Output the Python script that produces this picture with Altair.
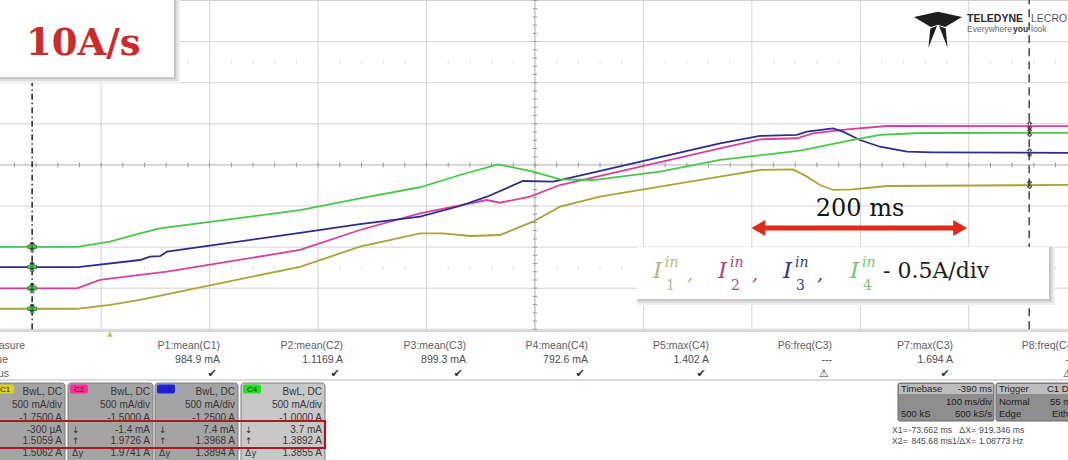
import altair as alt
import pandas as pd

W, H = 1068, 460

# ---------------- acquisition window ----------------
T_MIN, T_MAX = -103.3, 881.5      # ms across the screen (100 ms/div, delay -390 ms)
DIV_MIN, DIV_MAX = -7.18, 4.012   # divisions; the graticule itself spans -4..4
AMPS_PER_DIV = 0.5
GRID_T = [-10, 90, 190, 290, 390, 490, 590, 690, 790]
GRID_DIV = [-4, -3, -2, -1, 0, 1, 2, 3, 4]
CENTER_T = 390

CHANNELS = ["C1", "C2", "C3", "C4"]
OFFSETS = [-1.75, -1.50, -1.25, -1.00]          # A
TRACE_COLORS = ["#aaa23a", "#d7409d", "#2d2d8f", "#49c749"]

# ---------------- input currents (ms, A) ----------------
C1_T = [-103.3, -32.3, -1.9, 25.8, 69.1, 173.3, 228.6, 284.0, 305.2, 330.1, 357.7, 388.2,
        413.1, 425.0, 449.9, 560.6, 597.5, 627.9, 640.8, 652.8, 664.8, 683.2, 714.6, 881.5]
C1_I = [-0.0003, -0.0003, 0.046, 0.107, 0.228, 0.510, 0.755, 0.918, 0.918, 0.885, 0.897, 1.059,
        1.242, 1.283, 1.363, 1.607, 1.688, 1.696, 1.607, 1.505, 1.445, 1.453, 1.493, 1.506]

C2_T = [-103.3, -32.3, -11.1, 25.8, 50.7, 173.3, 228.6, 284.0, 345.7, 357.7, 385.4, 413.1,
        560.6, 597.5, 631.6, 646.3, 677.7, 714.6, 881.5]
C2_I = [-0.0014, -0.0014, 0.100, 0.161, 0.201, 0.465, 0.708, 0.911, 1.073, 1.040, 1.113, 1.255,
        1.702, 1.811, 1.824, 1.884, 1.933, 1.973, 1.9726]

C3_T = [-103.3, -31.4, 25.8, 35.0, 44.2, 50.7, 173.3, 228.6, 284.0, 320.8, 345.7, 378.9, 406.6,
        413.1, 560.6, 597.5, 631.6, 640.8, 664.8, 674.0, 689.7, 708.1, 733.0, 757.0, 881.5]
C3_I = [0.0074, 0.0074, 0.093, 0.133, 0.140, 0.194, 0.422, 0.530, 0.620, 0.750, 0.863, 1.054, 1.046,
        1.066, 1.513, 1.602, 1.614, 1.654, 1.694, 1.654, 1.553, 1.471, 1.411, 1.403, 1.3968]

C4_T = [-103.3, -32.3, -1.9, 25.8, 44.2, 173.3, 228.6, 284.0, 320.8, 355.9, 388.2, 413.1,
        443.5, 505.3, 560.6, 634.3, 683.2, 708.1, 745.0, 881.5]
C4_I = [0.0037, 0.0037, 0.066, 0.168, 0.229, 0.450, 0.594, 0.728, 0.877, 1.007, 0.917, 0.825,
        0.816, 0.917, 1.060, 1.173, 1.303, 1.364, 1.388, 1.3892]

# ---------------- cursors ----------------
CURSOR_X1 = -73.662
CURSOR_X2 = 845.684
CURSOR_Y1 = [-0.0003, -0.0014, 0.0074, 0.0037]   # A at X1
CURSOR_Y2 = [1.5059, 1.9726, 1.3968, 1.3892]     # A at X2

# ---------------- ramp annotation ----------------
ARROW_START = 589.0
ARROW_SPAN = 200.0       # ms
ARROW_LEVEL = -1.535     # div

# ---------------- measurement readout ----------------
P_LABELS = ["P1:mean(C1)", "P2:mean(C2)", "P3:mean(C3)", "P4:mean(C4)",
            "P5:max(C4)", "P6:freq(C3)", "P7:max(C3)", "P8:freq(C4)"]
P_VALUES = ["984.9 mA", "1.1169 A", "899.3 mA", "792.6 mA", "1.402 A", "---", "1.694 A", "---"]
P_STATUS = ["\u2714", "\u2714", "\u2714", "\u2714", "\u2714", "\u26a0", "\u2714", "\u26a0"]

CH_BW = ["BwL, DC"] * 4
CH_SCALE = ["500 mA/div"] * 4
CH_OFFSET_TXT = ["-1.7500 A", "-1.5000 A", "-1.2500 A", "-1.0000 A"]
CH_DY = ["1.5062 A", "1.9741 A", "1.3894 A", "1.3855 A"]
CH_Y1_TXT = ["-300 \u00b5A", "-1.4 mA", "7.4 mA", "3.7 mA"]
CH_Y2_TXT = ["1.5059 A", "1.9726 A", "1.3968 A", "1.3892 A"]
BADGE_COLORS = ["#dcd21e", "#ff2c9c", "#2020e8", "#26e026"]
LEGEND_COLORS = ["#b4b87e", "#a44b8c", "#3b3b8d", "#78c678"]

# ---------------- derived tables ----------------
rows = []
for ch, off, ts, cur in zip(CHANNELS, OFFSETS, [C1_T, C2_T, C3_T, C4_T], [C1_I, C2_I, C3_I, C4_I]):
    for k, (t, i) in enumerate(zip(ts, cur)):
        rows.append({"ch": ch, "k": k, "t": t, "I": i, "div": (i + off) / AMPS_PER_DIV})
traces = pd.DataFrame(rows)

xs = alt.Scale(domain=[T_MIN, T_MAX], nice=False, zero=False)
ys = alt.Scale(domain=[DIV_MIN, DIV_MAX], nice=False, zero=False)
X = lambda f: alt.X(f, scale=xs, axis=None)
Y = lambda f: alt.Y(f, scale=ys, axis=None)

GRID = "#d3d3d3"

vgrid = alt.Chart(pd.DataFrame({"t": GRID_T, "a": -4, "b": 4})).mark_rule(
    color=GRID, strokeWidth=1).encode(x=X("t:Q"), y=Y("a:Q"), y2="b:Q")
hgrid = alt.Chart(pd.DataFrame({"div": GRID_DIV, "a": T_MIN, "b": T_MAX})).mark_rule(
    color=GRID, strokeWidth=1).encode(y=Y("div:Q"), x=X("a:Q"), x2="b:Q")
center = alt.Chart(pd.DataFrame({"t": [CENTER_T], "a": -4, "b": 4})).mark_rule(
    color="#c2c2c2", strokeWidth=1).encode(x=X("t:Q"), y=Y("a:Q"), y2="b:Q")
center_h = alt.Chart(pd.DataFrame({"div": [0], "a": T_MIN, "b": T_MAX})).mark_rule(
    color="#c2c2c2", strokeWidth=1).encode(y=Y("div:Q"), x=X("a:Q"), x2="b:Q")

tick_t = [CENTER_T + 20 * k for k in range(-25, 26) if T_MIN < CENTER_T + 20 * k < T_MAX]
hticks = alt.Chart(pd.DataFrame({"t": tick_t, "a": -0.06, "b": 0.06})).mark_rule(
    color="#9a9a9a", strokeWidth=1).encode(x=X("t:Q"), y=Y("a:Q"), y2="b:Q")
tick_d = [round(0.2 * k, 2) for k in range(-20, 21)]
vticks = alt.Chart(pd.DataFrame({"div": tick_d, "a": CENTER_T - 2.0, "b": CENTER_T + 2.0})).mark_rule(
    color="#9a9a9a", strokeWidth=1).encode(y=Y("div:Q"), x=X("a:Q"), x2="b:Q")
faint = pd.DataFrame([{"t": t, "a": d - 0.04, "b": d + 0.04} for d in (2.5, -2.5) for t in tick_t])
fticks = alt.Chart(faint).mark_rule(color="#dedede", strokeWidth=1).encode(
    x=X("t:Q"), y=Y("a:Q"), y2="b:Q")

lines = alt.Chart(traces).mark_line(strokeWidth=1.8, interpolate="linear").encode(
    x=X("t:Q"), y=Y("div:Q"),
    color=alt.Color("ch:N", scale=alt.Scale(domain=CHANNELS, range=TRACE_COLORS), legend=None),
    order="k:Q")

cur_rules = alt.Chart(pd.DataFrame({"t": [CURSOR_X1], "a": -4, "b": 4})).mark_rule(
    color="#222222", strokeWidth=1.5, strokeDash=[6, 3, 1.5, 3]).encode(x=X("t:Q"), y=Y("a:Q"), y2="b:Q")
cur_rules2 = alt.Chart(pd.DataFrame({"t": [CURSOR_X2], "a": -4, "b": DIV_MAX})).mark_rule(
    color="#2a2a2a", strokeWidth=1.3, strokeDash=[8, 5]).encode(x=X("t:Q"), y=Y("a:Q"), y2="b:Q")

m1 = pd.DataFrame({"t": CURSOR_X1, "div": [(v + o) / AMPS_PER_DIV for v, o in zip(CURSOR_Y1, OFFSETS)]})
m2 = pd.DataFrame({"t": CURSOR_X2, "div": [(v + o) / AMPS_PER_DIV for v, o in zip(CURSOR_Y2, OFFSETS)]})
marks1 = alt.Chart(m1).mark_point(shape="cross", filled=True, size=75, color="#3fd63f",
                                  stroke="#1d5a1d", strokeWidth=0.6, opacity=1).encode(x=X("t:Q"), y=Y("div:Q"))
marks1b = alt.Chart(m1).mark_text(text="\u2195", fontSize=11, color="#333333", font="DejaVu Sans").encode(
    x=X("t:Q"), y=Y("div:Q"))
marks2 = alt.Chart(m2).mark_text(text="\u21d5", fontSize=12, color="#3a3a3a", font="DejaVu Sans").encode(
    x=X("t:Q"), y=Y("div:Q"))

arrow_df = pd.DataFrame({"a": [ARROW_START + 7], "b": [ARROW_START + ARROW_SPAN - 7], "div": [ARROW_LEVEL]})
arrow_bar = alt.Chart(arrow_df).mark_rule(color="#e02a1a", strokeWidth=5).encode(
    x=X("a:Q"), x2="b:Q", y=Y("div:Q"))
heads = pd.DataFrame({"t": [ARROW_START + 7, ARROW_START + ARROW_SPAN - 7], "div": ARROW_LEVEL,
                      "shape": ["triangle-left", "triangle-right"]})
arrow_heads = alt.Chart(heads).mark_point(filled=True, size=256, color="#e02a1a", opacity=1).encode(
    x=X("t:Q"), y=Y("div:Q"), shape=alt.Shape("shape:N", scale=None))


# ---------------- screen furniture in pixel space ----------------
def px_rect(recs, **kw):
    df = pd.DataFrame(recs, columns=["x", "x2", "y", "y2", "c"])
    return alt.Chart(df).mark_rect(**kw).encode(
        x=alt.X("x:Q", scale=None), x2="x2:Q", y=alt.Y("y:Q", scale=None), y2="y2:Q",
        color=alt.Color("c:N", scale=None))


def px_text(recs, **kw):
    df = pd.DataFrame(recs, columns=["x", "y", "text", "c"])
    return alt.Chart(df).mark_text(baseline="alphabetic", **kw).encode(
        x=alt.X("x:Q", scale=None), y=alt.Y("y:Q", scale=None), text="text:N",
        color=alt.Color("c:N", scale=None))


def shadowed_box(x0, x1, y0, y1):
    return [(x0, x1 + 6, y0, y1 + 6, "#f0f0f0"), (x0, x1 + 4, y0, y1 + 4, "#dedede"),
            (x0, x1 + 2, y0, y1 + 2, "#c6c6c6"), (x0, x1, y0, y1, "#ffffff")]


title_box = px_rect(shadowed_box(-2, 174, -2, 77))
title_txt = px_text([(26, 55, "10A/s", "#cc2b2b")], font="DejaVu Serif", fontSize=37,
                    fontWeight="bold", align="left")

legend_box = px_rect(shadowed_box(637, 1049, 247, 299))
I_X = [653, 718, 783, 850]
leg_I = px_text([(x, 278, "I", c) for x, c in zip(I_X, LEGEND_COLORS)],
                font="DejaVu Serif", fontSize=23, fontStyle="italic", align="left")
leg_sup = px_text([(x + 12, 267, "in", c) for x, c in zip(I_X, LEGEND_COLORS)],
                  font="DejaVu Serif", fontSize=14, fontStyle="italic", align="left")
leg_sub = px_text([(x + 13, 290, str(n + 1), c) for n, (x, c) in enumerate(zip(I_X, LEGEND_COLORS))],
                  font="DejaVu Serif", fontSize=14, align="left")
leg_comma = px_text([(x + 34, 280, ",", c) for x, c in zip(I_X[:3], LEGEND_COLORS[:3])],
                    font="DejaVu Serif", fontSize=19, fontStyle="italic", align="left")
leg_unit = px_text([(883, 278, "- 0.5A/div", "#1e1e1e")], font="DejaVu Serif", fontSize=22, align="left")

ramp_txt = px_text([(860, 216, "200 ms", "#151515")], font="DejaVu Serif", fontSize=24, align="center")

# maker emblem and wordmark
EMBLEM = ("M -1 -0.5 L 0 -0.72 L 1 -0.5 L 0.3 -0.08 L 0 -0.18 L -0.3 -0.08 Z "
          "M -0.32 -0.02 L -0.04 -0.14 L -0.4 0.78 Z M 0.32 -0.02 L 0.04 -0.14 L 0.4 0.78 Z")
emblem = alt.Chart(pd.DataFrame({"x": [938], "y": [29]})).mark_point(
    shape=EMBLEM, size=2300, filled=True, color="#1e1e1e", opacity=1).encode(
    x=alt.X("x:Q", scale=None), y=alt.Y("y:Q", scale=None))
brand1 = px_text([(967, 22, "TELEDYNE", "#2a2a2a")], font="Liberation Sans", fontSize=10.5,
                 fontWeight="bold", align="left")
brand2 = px_text([(1031, 22, "LECROY", "#5a5a5a")], font="Liberation Sans", fontSize=10.5, align="left")
brand3 = px_text([(967, 32, "Everywhere", "#6a6a6a"), (1031, 32, "look", "#6a6a6a")],
                 font="Liberation Sans", fontSize=8.5, align="left")
brand4 = px_text([(1013, 32, "you", "#333333")], font="Liberation Sans", fontSize=8.5,
                 fontWeight="bold", align="left")

trig = px_text([(110, 336, "\u25b2", "#c9c04a")], font="DejaVu Sans", fontSize=7, align="center")

# measurement table
sep = px_rect([(0, W, 330.5, 331.5, "#b4b4b4"), (0, W, 379.5, 380.5, "#b8b8b8")])
COL_R = [220, 343, 466, 588, 709, 832, 953, 1076]
meas_lab = px_text([(x, 349, s, "#5e5e5e") for x, s in zip(COL_R, P_LABELS)] +
                   [(25, 349, "Measure", "#5e5e5e"), (8, 363, "value", "#5e5e5e"), (9, 377, "status", "#5e5e5e")],
                   font="Liberation Sans", fontSize=10.5, align="right")
meas_val = px_text([(x, 363, s, "#4e4e4e") for x, s in zip(COL_R, P_VALUES)],
                   font="Liberation Sans", fontSize=10.5, align="right")
meas_st = px_text([(x - 8, 377, s, "#333333") for x, s in zip(COL_R, P_STATUS)],
                  font="DejaVu Sans", fontSize=11, align="center")

# channel descriptor boxes
BOX_L = [-6, 68, 155, 241]
BOX_R = [65, 153, 238, 325]
BOX_FILL = ["#a4a4a4", "#a4a4a4", "#a4a4a4", "#c8c8c8"]
ch_boxes = px_rect([(l, r, 383, 464, f) for l, r, f in zip(BOX_L, BOX_R, BOX_FILL)],
                   cornerRadius=3, stroke="#7c7c7c", strokeWidth=1)
badges = px_rect([(l + 2, l + 20, 384.5, 393.5, c) for l, c in zip(BOX_L, BADGE_COLORS)], cornerRadius=2)
badge_txt = px_text([(l + 11, 392, ch, "#2a2a2a") for l, ch in zip(BOX_L, CHANNELS)],
                    font="Liberation Sans", fontSize=8, align="center")
ROW_Y = [395, 408, 421, 433, 444, 456]
ch_rows = []
for n in range(4):
    vals = [CH_BW[n], CH_SCALE[n], CH_OFFSET_TXT[n], CH_Y1_TXT[n], CH_Y2_TXT[n], CH_DY[n]]
    for y, v in zip(ROW_Y, vals):
        ch_rows.append((BOX_R[n] - 3, y, v, "#363636"))
ch_txt = px_text(ch_rows, font="Liberation Sans", fontSize=10, align="right")
ch_sym = px_text([(BOX_L[n] + 4, y, s, "#363636") for n in range(1, 4)
                  for y, s in zip(ROW_Y[3:], ["\u2193", "\u2191", "\u0394y"])],
                 font="DejaVu Sans", fontSize=9, align="left")
highlight = px_rect([(-3, 325, 421, 448, "#b3161b")], filled=False, strokeWidth=2.2)

# timebase / trigger / cursor readout
tb_boxes = px_rect([(898, 994, 383, 421, "#8e8e8e"), (996, 1080, 383, 421, "#8e8e8e")],
                   cornerRadius=2, stroke="#6a6a6a", strokeWidth=1)
tb_heads = px_rect([(899, 993, 384, 394, "#bdbdbd"), (997, 1079, 384, 394, "#bdbdbd")])
tb_left = px_text([(901, 392, "Timebase", "#1e1e1e"), (901, 417, "500 kS", "#1e1e1e"),
                   (999, 392, "Trigger", "#1e1e1e"), (999, 405, "Normal", "#1e1e1e"),
                   (999, 417, "Edge", "#1e1e1e"), (1047, 392, "C1 DC", "#1e1e1e"),
                   (1050, 405, "55 mA", "#1e1e1e"), (1052, 417, "Either", "#1e1e1e")],
                  font="Liberation Sans", fontSize=9.5, align="left")
tb_right = px_text([(992, 392, "-390 ms", "#1e1e1e"), (992, 405, "100 ms/div", "#1e1e1e"),
                    (992, 417, "500 kS/s", "#1e1e1e")],
                   font="Liberation Sans", fontSize=9.5, align="right")
dx = CURSOR_X2 - CURSOR_X1
xr_left = px_text([(892, 433, "X1=", "#4a4a4a"), (892, 444, "X2=", "#4a4a4a"),
                   (979, 433, f"{dx:.3f} ms", "#4a4a4a"), (979, 444, f"{1000.0 / dx:.5f} Hz", "#4a4a4a")],
                  font="Liberation Sans", fontSize=8.7, align="left")
xr_right = px_text([(952, 433, f"{CURSOR_X1:.3f} ms", "#4a4a4a"), (952, 444, f"{CURSOR_X2:.2f} ms", "#4a4a4a"),
                    (976, 433, "\u0394X=", "#4a4a4a"), (976, 444, "1/\u0394X=", "#4a4a4a")],
                   font="Liberation Sans", fontSize=8.7, align="right")

chart = alt.layer(
    vgrid, hgrid, center, center_h, hticks, vticks, fticks,
    lines, cur_rules, cur_rules2, marks1, marks1b, marks2,
    arrow_bar, arrow_heads, ramp_txt,
    title_box, title_txt, legend_box, leg_I, leg_sup, leg_sub, leg_comma, leg_unit,
    emblem, brand1, brand2, brand3, brand4, trig,
    sep, meas_lab, meas_val, meas_st,
    ch_boxes, badges, badge_txt, ch_txt, ch_sym, highlight,
    tb_boxes, tb_heads, tb_left, tb_right, xr_left, xr_right,
).resolve_scale(x="independent", y="independent", color="independent", shape="independent").properties(
    width=W, height=H, padding=0, autosize="none", background="white"
).configure_view(strokeWidth=0)

chart.save("out.html", embed_options={"renderer": "svg", "actions": False})
